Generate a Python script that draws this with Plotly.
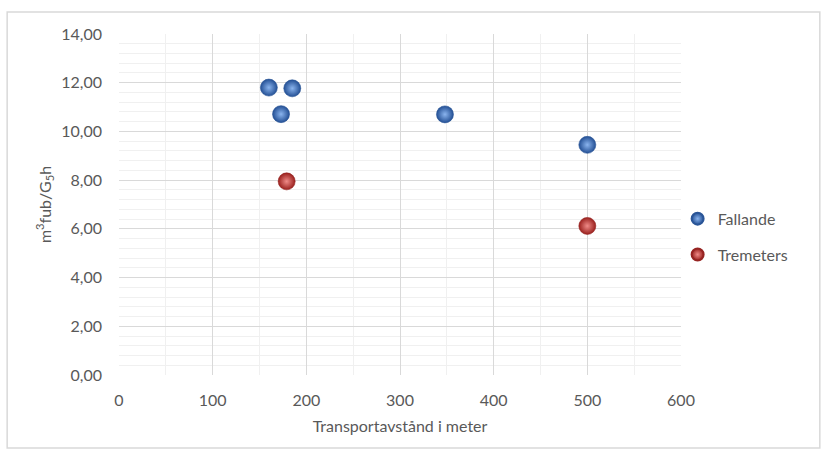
import plotly.graph_objects as go

# Transport distance (m) and productivity (m3fub/G5h) per method
fallande_x = [160, 185, 173, 348, 500]
fallande_y = [11.80, 11.77, 10.71, 10.70, 9.45]
tremeters_x = [179, 500]
tremeters_y = [7.95, 6.12]

x_ticks = [0, 100, 200, 300, 400, 500, 600]
y_ticks = [0, 2, 4, 6, 8, 10, 12, 14]

FONT = "Lato"
TXT = "#595959"

fig = go.Figure()
fig.add_trace(go.Scatter(
    x=fallande_x, y=fallande_y, mode="markers", name="Fallande",
    legendgroup="a",
    marker=dict(size=17, color="#234f94",
                gradient=dict(type="radial", color="#8ab4ee"),
                line=dict(width=0.6, color="#2a5597")),
))
fig.add_trace(go.Scatter(
    x=tremeters_x, y=tremeters_y, mode="markers", name="Tremeters",
    legendgroup="b",
    marker=dict(size=17, color="#9a201d",
                gradient=dict(type="radial", color="#ef8b88"),
                line=dict(width=0.6, color="#962422")),
))

grid_major = "#d9d9d9"
grid_minor = "#f0f0f0"

fig.update_xaxes(
    range=[0, 600], tickvals=x_ticks, showgrid=True, gridcolor=grid_major,
    gridwidth=1, zeroline=False, showline=False, ticks="",
    minor=dict(dtick=50, showgrid=True, gridcolor=grid_minor, gridwidth=1),
    tickfont=dict(family=FONT, size=16, color=TXT), ticklabelstandoff=14,
    title=dict(text="Transportavstånd i meter", standoff=12,
               font=dict(family=FONT, size=16, color=TXT)),
)
fig.update_yaxes(
    range=[0, 14], tickvals=y_ticks, tickformat=".2f", showgrid=True,
    gridcolor=grid_major, gridwidth=1, zeroline=False, showline=False, ticks="",
    minor=dict(dtick=0.4, showgrid=True, gridcolor=grid_minor, gridwidth=1),
    tickfont=dict(family=FONT, size=16, color=TXT), ticklabelstandoff=16,
    title=dict(text="m<sup>3</sup>fub/G<sub>5</sub>h", standoff=5,
               font=dict(family=FONT, size=16, color=TXT)),
)

fig.update_layout(
    width=827, height=455,
    margin=dict(l=119, r=146, t=34, b=80),
    paper_bgcolor="white", plot_bgcolor="white",
    separators=", ",
    showlegend=True,
    legend=dict(x=0.994, y=0.508, xanchor="left", yanchor="top",
                traceorder="grouped", tracegroupgap=12,
                itemsizing="constant",
                font=dict(family=FONT, size=16, color=TXT),
                itemwidth=30, bgcolor="rgba(0,0,0,0)"),
    shapes=[dict(type="rect", xref="paper", yref="paper",
                 x0=-0.199, x1=1.247, y0=-0.214, y1=1.0645,
                 line=dict(color="#d9d9d9", width=1.5), layer="below")],
)

fig.write_html("out.html")
